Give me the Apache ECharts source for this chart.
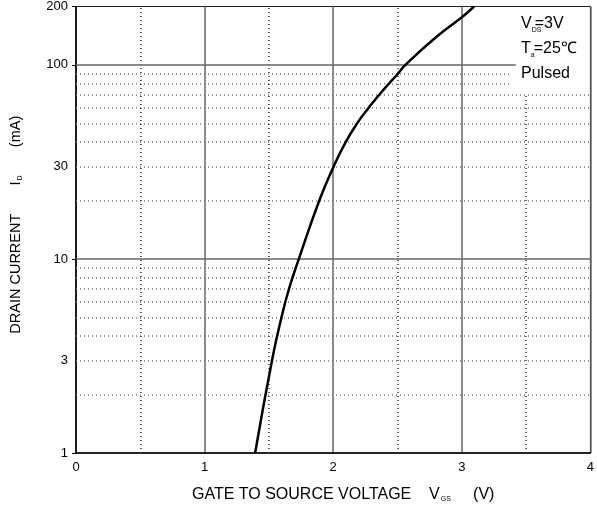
<!DOCTYPE html>
<html>
<head>
<meta charset="utf-8">
<script src="https://cdn.jsdelivr.net/npm/echarts@6/dist/echarts.min.js"></script>
<style>
  html, body { margin: 0; padding: 0; background: #fff; }
  #chart-container { width: 597px; height: 511px; }
</style>
</head>
<body>
<div id="chart-container"></div>
<script>
// curve
var vgs = [1.393, 1.524, 1.598, 1.656, 1.733, 1.892, 2.004, 2.097, 2.186, 2.275, 2.356, 2.433, 2.503, 2.561, 2.806, 3.01, 3.095];
var idrain = [1, 3, 5, 7, 10, 20, 30, 40, 50, 60, 70, 80, 90, 100, 140, 178, 200];

var yTicks = [1, 3, 10, 30, 100, 200];
var dotRows = [2, 3, 4, 5, 6, 7, 8, 9, 20, 30, 40, 50, 60, 70];
var dotRowsShort = [80, 90];
var dotCols = [0.5, 1.5, 2.5];

var dom = document.getElementById('chart-container');
var myChart = echarts.init(dom, null, { renderer: 'canvas' });

var pts = vgs.map(function (v, i) { return [v, idrain[i]]; });

var dottedRows = [];
dotRows.forEach(function (v) { dottedRows.push({ yAxis: v }); });
dotRowsShort.forEach(function (v) { dottedRows.push([{ coord: [0, v] }, { coord: [3.37, v] }]); });

var dottedCols = [];
dotCols.forEach(function (v) { dottedCols.push({ xAxis: v }); });
dottedCols.push([{ coord: [3.5, 1] }, { coord: [3.5, 70] }]);

var solid = [
  { yAxis: 10 },
  [{ coord: [0, 100] }, { coord: [3.42, 100] }]
];

function titleRich(size) {
  return {
    t: { fontFamily: 'Liberation Sans', fontSize: size, color: '#000' },
    s: { fontFamily: 'Liberation Sans', fontSize: 7, color: '#000', padding: [10, 0, 0, 1] },
    sp: { fontFamily: 'Liberation Sans', fontSize: size }
  };
}

function marks(list, color, type) {
  return {
    type: 'line',
    data: [],
    silent: true,
    markLine: {
      silent: true, symbol: 'none', animation: false,
      label: { show: false },
      lineStyle: { color: color, type: type, width: 1.5 },
      data: list
    }
  };
}

var option = {
  animation: false,
  grid: {
    left: 74, right: 6, top: 3, bottom: 58,
    show: true, borderColor: '#222', borderWidth: 1
  },
  xAxis: {
    type: 'value',
    min: 0, max: 4, interval: 1,
    name: '{t|GATE TO SOURCE VOLTAGE}{sp|    }{t|V}{s|GS}{sp|     }{t|(V)}',
    nameLocation: 'middle',
    nameGap: 33,
    nameTextStyle: { padding: [0, 0, 0, 20], rich: titleRich(16) },
    axisLine: { lineStyle: { color: '#000', width: 1.5 } },
    axisTick: { show: false },
    axisLabel: { color: '#000', fontFamily: 'Liberation Sans', fontSize: 13, margin: 8 },
    splitLine: { show: true, lineStyle: { color: '#666', width: 1.5 } }
  },
  yAxis: {
    type: 'log',
    logBase: 10,
    min: 1, max: 200,
    name: '{t|DRAIN CURRENT}{sp|       }{t|I}{s|D}{sp|       }{t|(mA)}',
    nameLocation: 'middle',
    nameRotate: 90,
    nameGap: 52,
    nameTextStyle: { padding: [0, 0, 0, 10], rich: titleRich(14.5) },
    axisLine: { show: true, lineStyle: { color: '#000', width: 1.5 } },
    axisTick: { show: true, length: 4, lineStyle: { color: '#000' } },
    axisLabel: {
      color: '#000', fontFamily: 'Liberation Sans', fontSize: 13, margin: 8,
      customValues: yTicks
    },
    splitLine: { show: false }
  },
  graphic: [{
    type: 'text',
    left: 521, top: 14,
    style: {
      text: '{t|V}{s|DS}{t|=3V}\n{t|T}{s|a}{t|=25℃}\n{t|Pulsed}',
      rich: {
        t: { fontFamily: 'Liberation Sans', fontSize: 16, color: '#000', lineHeight: 25 },
        s: { fontFamily: 'Liberation Sans', fontSize: 7, color: '#000', lineHeight: 25, width: 3, padding: [13, 0, 0, 0] }
      }
    }
  }],
  series: [
    marks(dottedRows, '#777', [1, 3]),
    marks(dottedCols, '#333', [1, 3]),
    marks(solid, '#666', 'solid'),
    {
      type: 'line',
      data: pts,
      smooth: 0.5,
      showSymbol: false,
      z: 5,
      lineStyle: { color: '#000', width: 2.5 }
    }
  ]
};

myChart.setOption(option);
</script>
</body>
</html>
